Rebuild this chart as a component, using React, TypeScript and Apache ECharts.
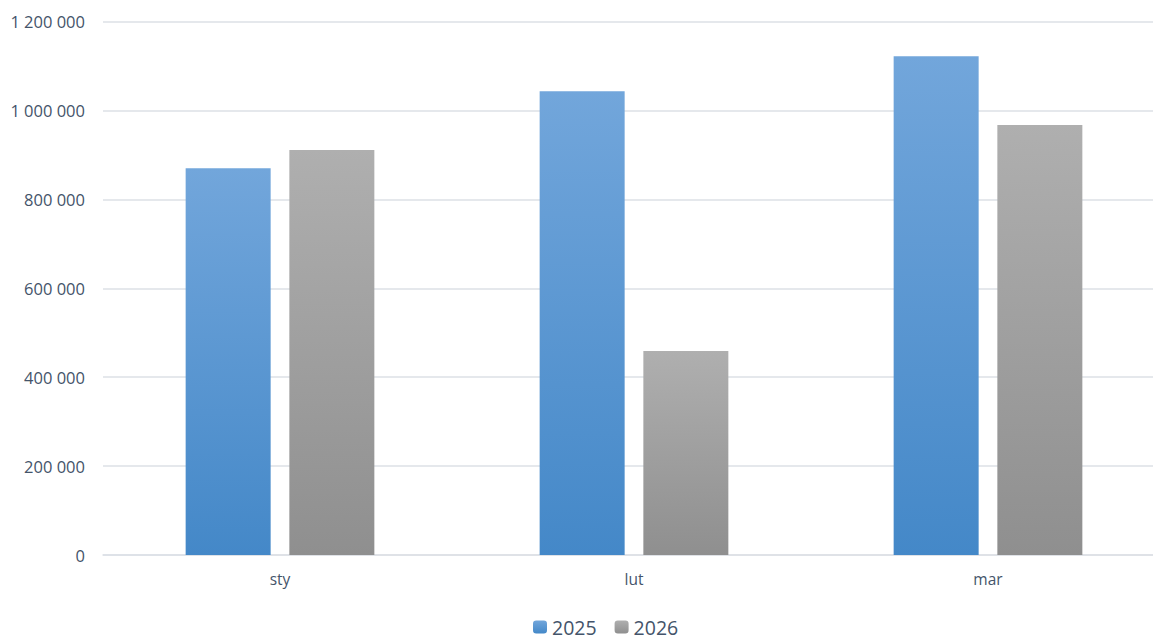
import React, { useEffect, useRef } from "react";
import * as echarts from "echarts";

const categories = ["sty", "lut", "mar"];
const series2025 = [870000, 1043000, 1122000];
const series2026 = [911000, 459000, 967000];
const seriesNames = ["2025", "2026"];

const fmt = (v: number) => String(v).replace(/\B(?=(\d{3})+(?!\d))/g, " ");

const grad = (top: string, bottom: string) =>
  new echarts.graphic.LinearGradient(0, 0, 0, 1, [
    { offset: 0, color: top },
    { offset: 1, color: bottom },
  ]);

export default function App() {
  const ref = useRef<HTMLDivElement>(null);
  useEffect(() => {
    if (!ref.current) return;
    const chart = echarts.init(ref.current, null, { renderer: "svg" });
    const textColor = "#44546A";
    const font = "'Open Sans', 'Noto Sans', sans-serif";
    chart.setOption({
      animation: false,
      textStyle: { fontFamily: font },
      grid: { left: 103, right: 0, top: 21.5, bottom: 86, containLabel: false },
      legend: {
        bottom: 4,
        left: 528,
        padding: [0, 5, 0, 5],
        itemWidth: 14,
        itemHeight: 13,
        itemGap: 18,
        textStyle: { color: textColor, fontSize: 19.5, lineHeight: 20, fontFamily: font },
        data: seriesNames,
      },
      xAxis: {
        type: "category",
        data: categories,
        axisLine: { show: true, lineStyle: { color: "#DCE0E6", width: 1.5 } },
        axisTick: { show: false },
        axisLabel: { color: textColor, fontSize: 15.5, margin: 16, fontFamily: font },
      },
      yAxis: {
        type: "value",
        min: 0,
        max: 1200000,
        interval: 200000,
        axisLine: { show: false },
        axisTick: { show: false },
        splitLine: { lineStyle: { color: "#DCE0E6", width: 1.5 } },
        axisLabel: {
          color: textColor,
          fontSize: 16.5,
          margin: 18,
          fontFamily: font,
          formatter: (v: number) => fmt(v),
        },
      },
      series: [
        {
          name: seriesNames[0],
          type: "bar",
          data: series2025,
          barWidth: 85,
          barGap: "22%",
          itemStyle: { color: grad("#72A6DB", "#4488C8") },
        },
        {
          name: seriesNames[1],
          type: "bar",
          data: series2026,
          barWidth: 85,
          itemStyle: { color: grad("#AFAFAF", "#8F8F8F") },
        },
      ],
    });
    return () => chart.dispose();
  }, []);
  return (
    <div
      style={{ position: "fixed", left: 0, top: 0, width: 1153, height: 641, overflow: "hidden", background: "#fff" }}
    >
      <div ref={ref} style={{ width: 1165, height: 641 }} />
    </div>
  );
}
